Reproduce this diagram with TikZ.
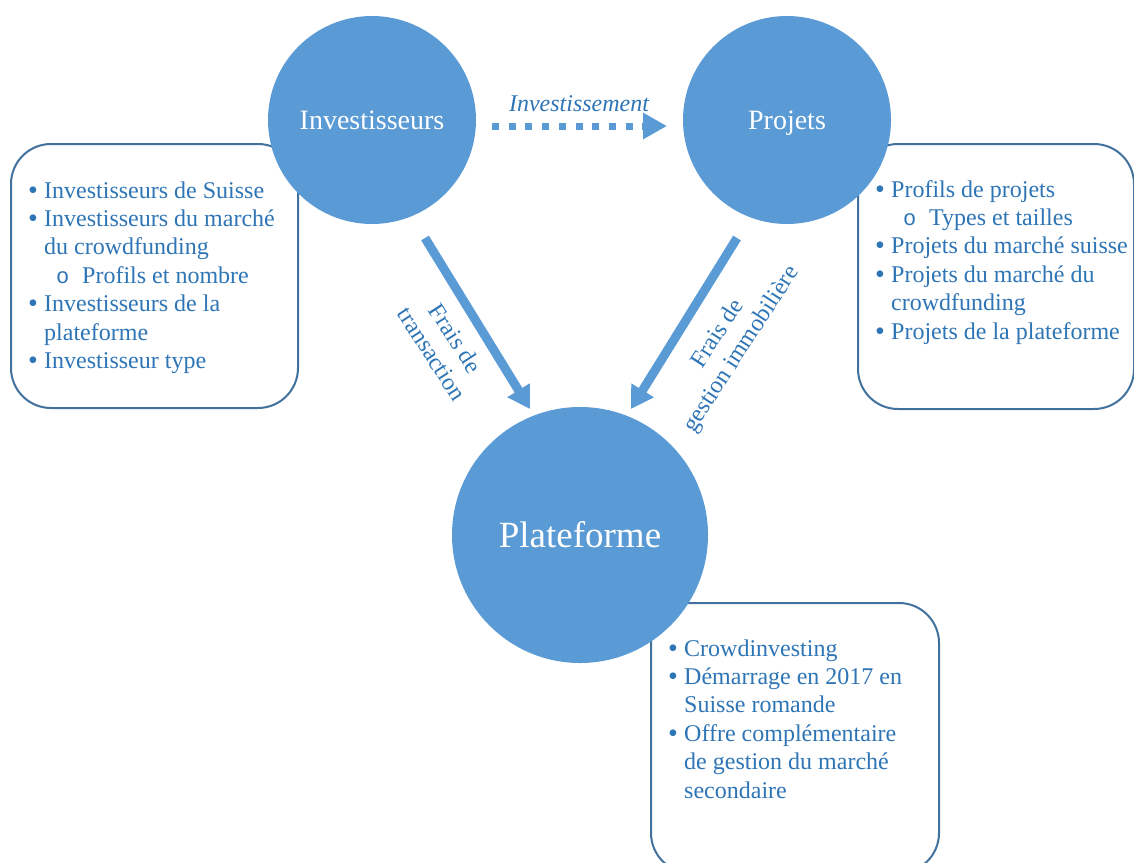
\documentclass[tikz,border=0pt]{standalone}
\usepackage{fontspec}
\setmainfont{Liberation Serif}
\newfontfamily\monofont{Liberation Mono}
\usetikzlibrary{arrows.meta}

\definecolor{bubble}{RGB}{91,155,213}
\definecolor{ink}{RGB}{46,117,182}
\definecolor{frame}{RGB}{65,113,156}

% list helpers: bullet, sub-bullet, continuation indent
\newcommand\bul{\makebox[16pt][l]{\raisebox{-1pt}{\fontsize{28}{28}\selectfont •}}}
\newcommand\subb{\hspace*{28pt}\makebox[26pt][l]{{\monofont\fontsize{22}{22}\selectfont o}}}
\newcommand\cont{\hspace*{16pt}}
\newcommand\itemlist[1]{\vtop{\baselineskip=28.4pt\halign{##\hfil\cr#1\crcr}}}

\tikzset{
  bubblenode/.style={circle, fill=bubble, draw=none, text=white, inner sep=0pt,
    text height=19pt, text depth=0pt},
  panel/.style={draw=frame, line width=2pt, rounded corners=40pt, fill=white,
    anchor=north west, inner sep=0pt},
  listnode/.style={anchor=base west, inner sep=0pt, text=ink,
    font=\fontsize{24}{28.4}\selectfont},
  flowlabel/.style={text=ink, align=center, inner sep=0pt,
    font=\fontsize{24}{28}\selectfont},
  fatarrow/.style={draw=bubble, line width=9pt,
    -{Triangle[length=22pt,width=25pt]}},
  dotarrow/.style={draw=bubble, line width=7pt, dash pattern=on 7pt off 9.7pt,
    -{Triangle[length=24pt,width=25pt]}},
}

\begin{document}
\begin{tikzpicture}[x=1pt,y=-1pt]
\useasboundingbox (0,0) rectangle (1134,862);
\clip (0,0) rectangle (1134,862);

% text panels (behind the circles)
\node[panel, minimum width=287pt, minimum height=264pt] (binv) at (10,143) {};
\node[panel, minimum width=276pt, minimum height=265pt] (bproj) at (857,143) {};
\node[panel, minimum width=288pt, minimum height=270pt] (bplat) at (650,602) {};

% main circles
\node[bubblenode, minimum size=208pt, font=\fontsize{28}{28}\selectfont] (inv) at (372,120) {Investisseurs};
\node[bubblenode, minimum size=208pt, font=\fontsize{28}{28}\selectfont] (proj) at (787,120) {Projets};
\node[bubblenode, minimum size=256pt, font=\fontsize{37}{37}\selectfont, text height=25pt] (plat) at (580,535) {Plateforme};

% panel contents
\node[listnode] (linv) at (28,198) {\itemlist{%
\bul Investisseurs de Suisse\cr
\bul Investisseurs du marché\cr
\cont du crowdfunding\cr
\subb Profils et nombre\cr
\bul Investisseurs de la\cr
\cont plateforme\cr
\bul Investisseur type}};

\node[listnode] (lproj) at (875,197) {\itemlist{%
\bul Profils de projets\cr
\subb Types et tailles\cr
\bul Projets du marché suisse\cr
\bul Projets du marché du\cr
\cont crowdfunding\cr
\bul Projets de la plateforme}};

\node[listnode] (lplat) at (668,656) {\itemlist{%
\bul Crowdinvesting\cr
\bul Démarrage en 2017 en\cr
\cont Suisse romande\cr
\bul Offre complémentaire\cr
\cont de gestion du marché\cr
\cont secondaire}};

% flows between the actors
\coordinate (invout) at (492,126);
\coordinate (projin) at (667,126);
\draw[dotarrow] (invout) -- (projin);
\node[text=ink, inner sep=0pt, font=\fontsize{24}{24}\selectfont\itshape] (linvest) at (579,104) {Investissement};

\coordinate (feeAstart) at (425,238);
\coordinate (feeAend) at (530,409);
\draw[fatarrow] (feeAstart) -- (feeAend);
\node[flowlabel, rotate=-57] (lfeeA) at (444,346) {Frais de\\transaction};

\coordinate (feeBstart) at (737,238);
\coordinate (feeBend) at (631,409);
\draw[fatarrow] (feeBstart) -- (feeBend);
\node[flowlabel, rotate=57] (lfeeB) at (730,342) {Frais de\\gestion immobilière};
\end{tikzpicture}
\end{document}
